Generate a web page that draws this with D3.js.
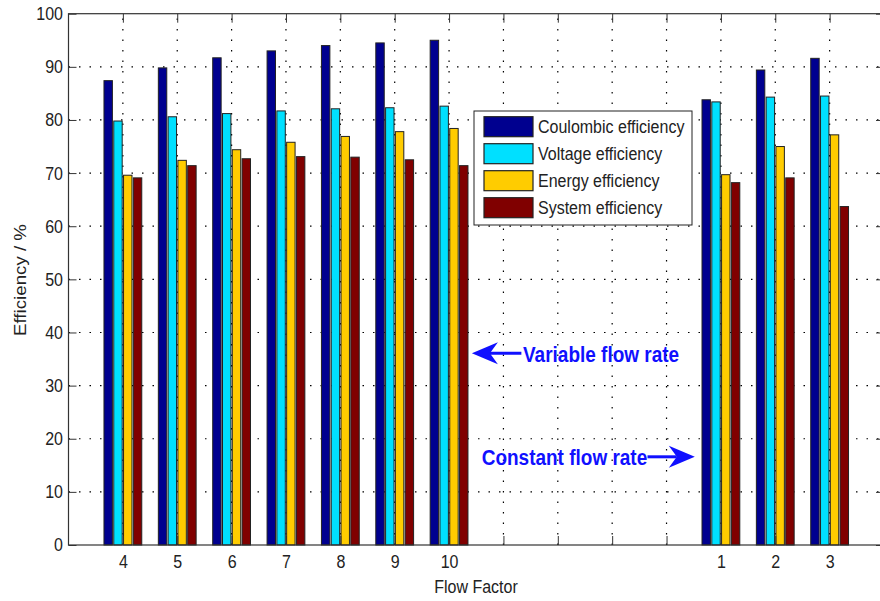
<!DOCTYPE html>
<html>
<head>
<meta charset="utf-8">
<script src="https://cdn.jsdelivr.net/npm/d3@7"></script>
<style>
  html, body { margin: 0; padding: 0; background: #fff; }
  svg { display: block; font-family: "Liberation Sans", Arial, sans-serif; }
  .tick text { fill: #222; font-size: 16px; }
  .grid line { stroke: #000; stroke-width: 1.2; stroke-dasharray: 1.5 9; }
</style>
</head>
<body>
<div id="chart"></div>
<script>
// x positions of the groups (gap between variable and constant flow runs)
const xPos = [1, 2, 3, 4, 5, 6, 7, 12, 13, 14];
const categories = ['4', '5', '6', '7', '8', '9', '10', '1', '2', '3'];
const seriesNames = ['Coulombic efficiency', 'Voltage efficiency', 'Energy efficiency', 'System efficiency'];
const seriesColors = ['#00008f', '#00e0ff', '#ffcc00', '#800000'];

const coulombic = [87.4, 89.8, 91.7, 93.0, 94.0, 94.5, 95.0, 83.8, 89.4, 91.6];
const voltage   = [79.8, 80.6, 81.2, 81.7, 82.1, 82.3, 82.6, 83.4, 84.3, 84.5];
const energy    = [69.6, 72.4, 74.4, 75.8, 76.9, 77.8, 78.4, 69.7, 75.0, 77.2];
const system    = [69.1, 71.4, 72.7, 73.1, 73.0, 72.5, 71.4, 68.2, 69.1, 63.7];

const yTicks = d3.range(0, 101, 10);
const xTicks = d3.range(1, 15);

// annotations in data units
const annotations = [
    { text: 'Variable flow rate', tip: 7.42, tail: 8.33, y: 36.1, tx: 8.36, ty: 34.4 },
    { text: 'Constant flow rate', tip: 11.52, tail: 10.65, y: 16.6, tx: 7.6, ty: 15.0 }
];

function drawChart() {
    const W = 880, H = 601;
    const svg = d3.select('#chart').append('svg')
        .attr('width', W)
        .attr('height', H);

    const x = d3.scaleLinear().domain([0, 15]).range([68.5, 884]);
    const y = d3.scaleLinear().domain([0, 100]).range([545, 13.7]);
    const stretch = 'scale(1,1.17)';

    // Grid
    const grid = svg.append('g').attr('class', 'grid');
    grid.selectAll('.vg')
        .data(xTicks)
        .enter().append('line')
        .attr('x1', d => x(d)).attr('x2', d => x(d))
        .attr('y1', y(0)).attr('y2', y(100));
    grid.selectAll('.hg')
        .data(yTicks.slice(1, -1))
        .enter().append('line')
        .attr('x1', x(0)).attr('x2', x(15))
        .attr('y1', d => y(d)).attr('y2', d => y(d));

    // Bars
    const series = [coulombic, voltage, energy, system];
    const pitch = x(0.18) - x(0);
    const bw = x(0.155) - x(0);
    series.forEach((vals, s) => {
        svg.append('g')
            .selectAll('rect')
            .data(vals)
            .enter().append('rect')
            .attr('x', (d, i) => x(xPos[i]) + (s - 1.5) * pitch - bw / 2)
            .attr('y', d => y(d))
            .attr('width', bw)
            .attr('height', d => y(0) - y(d))
            .attr('fill', seriesColors[s])
            .attr('stroke', '#222')
            .attr('stroke-width', 1);
    });

    // Axes (ticks inward on all four sides)
    const labelFor = v => {
        const i = xPos.indexOf(v);
        return i >= 0 ? categories[i] : '';
    };
    const axes = [
        svg.append('g').attr('transform', `translate(0,${y(0)})`)
            .call(d3.axisBottom(x).tickValues(xTicks).tickFormat(labelFor)
                .tickSizeInner(-9).tickSizeOuter(0).tickPadding(8.3)),
        svg.append('g').attr('transform', `translate(0,${y(100)})`)
            .call(d3.axisTop(x).tickValues(xTicks).tickFormat('')
                .tickSizeInner(-9).tickSizeOuter(0)),
        svg.append('g').attr('transform', `translate(${x(0)},0)`)
            .call(d3.axisLeft(y).tickValues(yTicks).tickSizeInner(-8)
                .tickSizeOuter(0).tickPadding(5.5)),
        svg.append('g').attr('transform', `translate(${x(15)},0)`)
            .call(d3.axisRight(y).tickValues(yTicks).tickFormat('')
                .tickSizeInner(-8).tickSizeOuter(0))
    ];
    axes.forEach(a => {
        a.select('.domain').remove();
        a.selectAll('.tick line').attr('stroke', '#333');
        a.selectAll('.tick text').attr('transform', stretch);
    });

    svg.append('rect')
        .attr('x', x(0)).attr('y', y(100))
        .attr('width', x(15) - x(0)).attr('height', y(0) - y(100))
        .attr('fill', 'none').attr('stroke', '#333').attr('stroke-width', 1.2);

    // Axis labels
    svg.append('text')
        .attr('transform', `translate(476,592.5) ${stretch}`)
        .attr('text-anchor', 'middle')
        .attr('font-size', 16).attr('fill', '#222')
        .text('Flow Factor');
    svg.append('text')
        .attr('transform', 'translate(26,280) rotate(-90) scale(1.17,1)')
        .attr('text-anchor', 'middle')
        .attr('font-size', 16).attr('fill', '#222')
        .text('Efficiency / %');

    // Legend
    const legend = svg.append('g').attr('transform', 'translate(474,111)');
    legend.append('rect')
        .attr('width', 218).attr('height', 114)
        .attr('fill', '#fff').attr('stroke', '#222').attr('stroke-width', 1);
    const item = legend.selectAll('.item')
        .data(seriesNames)
        .enter().append('g')
        .attr('transform', (d, i) => `translate(10,${15.7 + i * 27})`);
    item.append('rect')
        .attr('y', -10).attr('width', 49).attr('height', 20)
        .attr('fill', (d, i) => seriesColors[i])
        .attr('stroke', '#222').attr('stroke-width', 1.2);
    item.append('text')
        .attr('x', 54).attr('y', 0)
        .attr('transform', stretch)
        .attr('dy', '0.34em')
        .attr('font-size', 16).attr('fill', '#222')
        .text(d => d);

    // Annotations with arrows
    const blue = '#1010ff';
    annotations.forEach(a => {
        const tipX = x(a.tip), tailX = x(a.tail), ay = y(a.y);
        const dir = Math.sign(tipX - tailX);
        const L = 26, notch = 8, w = 11;
        svg.append('line')
            .attr('x1', tailX).attr('x2', tipX - dir * (L - notch))
            .attr('y1', ay).attr('y2', ay)
            .attr('stroke', blue).attr('stroke-width', 3);
        svg.append('path')
            .attr('d', `M${tipX},${ay} L${tipX - dir * L},${ay - w} L${tipX - dir * (L - notch)},${ay} L${tipX - dir * L},${ay + w} Z`)
            .attr('fill', blue);
        svg.append('text')
            .attr('transform', `translate(${x(a.tx)},${y(a.ty)}) ${stretch}`)
            .attr('font-size', 19).attr('font-weight', 'bold')
            .attr('fill', blue)
            .text(a.text);
    });
}

drawChart();
</script>
</body>
</html>
